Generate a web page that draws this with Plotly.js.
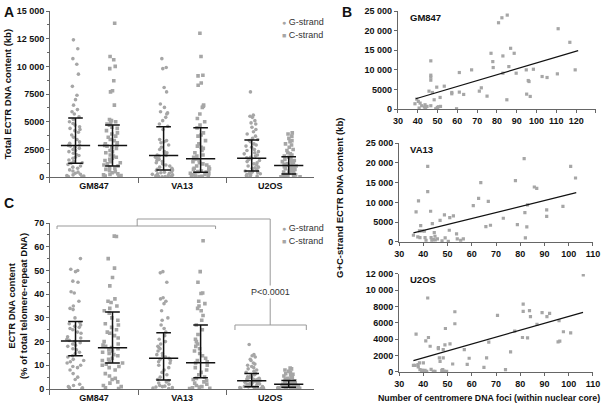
<!DOCTYPE html>
<html>
<head>
<meta charset="utf-8">
<script src="https://cdn.plot.ly/plotly-3.0.1.min.js"></script>
<style>body{margin:0;background:#fff}#plot{width:602px;height:410px}</style>
</head>
<body>
<div id="plot"></div>
<script>
const cells = ['GM847', 'VA13', 'U2OS'];

// Panel A: total ECTR DNA content (kb), one value per nucleus
const aGM847G = [12400, 11600, 10700, 10200, 9300, 8200, 7400, 7000, 6500, 6100, 5900, 5700, 5450, 5200, 5000, 4850, 4700, 4550, 4400, 4300, 4200, 4050, 3800, 3600, 3400, 3200, 3050, 2900, 2850, 2800, 2700, 2600, 2500, 2400, 2300, 2150, 2050, 1950, 1800, 1700, 1550, 1400, 1300, 1250, 1150, 1000, 900, 800, 650, 550, 450, 350, 250, 200, 150, 100, 60, 30];
const aGM847C = [13900, 10900, 10600, 10000, 9800, 8700, 7800, 7700, 6500, 5200, 5100, 5000, 4900, 4800, 4700, 4500, 4400, 4200, 4000, 3900, 3700, 3600, 3400, 3300, 3100, 3000, 2900, 2850, 2800, 2700, 2600, 2400, 2300, 2200, 2000, 1900, 1800, 1700, 1600, 1500, 1400, 1300, 1200, 1100, 1000, 900, 800, 700, 600, 500, 400, 300, 250, 200, 150, 100, 50];
const aVA13G = [10700, 9900, 9800, 8100, 7700, 6600, 6300, 5900, 5800, 5700, 5400, 5100, 4800, 4600, 4300, 3400, 3300, 3200, 3100, 2900, 2700, 2500, 2300, 2200, 2100, 2000, 1950, 1900, 1800, 1700, 1600, 1500, 1400, 1300, 1200, 1100, 1000, 900, 800, 700, 650, 600, 500, 450, 400, 350, 300, 250, 200, 150, 120, 100, 80, 50, 30];
const aVA13C = [13000, 10900, 9200, 9150, 8500, 8300, 6500, 6400, 6300, 5700, 5300, 5000, 4700, 4450, 4000, 3800, 3700, 3300, 3000, 2800, 2700, 2600, 2400, 2200, 2000, 1900, 1800, 1700, 1650, 1600, 1500, 1400, 1300, 1200, 1100, 1000, 900, 800, 750, 700, 600, 550, 500, 450, 400, 350, 300, 250, 200, 150, 100, 80, 50, 30];
const aU2OSG = [7700, 5600, 5500, 5400, 5100, 4900, 4800, 4500, 4300, 4100, 3900, 3700, 3500, 3400, 3300, 3200, 3000, 2900, 2800, 2700, 2500, 2400, 2300, 2200, 2100, 2000, 1900, 1800, 1750, 1700, 1600, 1500, 1400, 1300, 1200, 1100, 1000, 900, 850, 800, 700, 600, 550, 500, 450, 400, 350, 300, 250, 200, 150, 100, 80, 50];
const aU2OSC = [4000, 3900, 3700, 3500, 3300, 3200, 3000, 2900, 2700, 2500, 2400, 2200, 2100, 2000, 1900, 1800, 1700, 1600, 1500, 1450, 1400, 1300, 1250, 1200, 1150, 1100, 1050, 1000, 950, 900, 850, 800, 750, 700, 650, 600, 550, 500, 450, 400, 350, 300, 250, 200, 180, 150, 120, 100, 80, 60, 40, 20];
// median with interquartile range (per cell line)
const aMedG = [2850, 1950, 1700];
const aQ1G = [1250, 650, 550];
const aQ3G = [5350, 4550, 3350];
const aMedC = [2850, 1650, 1050];
const aQ1C = [1000, 450, 280];
const aQ3C = [4700, 4450, 1830];
const aTickVals = [0, 2500, 5000, 7500, 10000, 12500, 15000];
const aTickText = ['0', '2500', '5000', '7500', '10 000', '12 500', '15 000'];

// Panel C: ECTR DNA content (% of total telomere-repeat DNA)
const cGM847G = [55, 50.5, 50, 49.5, 45.5, 45, 41, 40.5, 37, 35, 34, 33.5, 30, 28, 27.5, 27, 26.5, 26, 25.5, 25, 24, 23.5, 22, 21.5, 21, 20.5, 20, 19.5, 19, 18.5, 18, 17, 16.5, 15.5, 15, 14, 13.5, 12.5, 12, 11.5, 11, 10, 9.5, 9, 8, 6.5, 5, 4, 2, 1.5, 1, 0.5, 0.5, 0.2];
const cGM847C = [64.5, 64.3, 55, 51, 47, 43.5, 38, 37, 36.5, 35, 34, 33, 32, 30, 29, 27.5, 27, 26, 25, 24, 23.5, 22.5, 21.5, 20, 19, 18.5, 18, 17.5, 17, 16.5, 16, 15.5, 15, 14.5, 14, 13, 12.5, 12, 11.5, 11, 10.5, 10, 9.5, 9, 8, 6.5, 5.5, 4.5, 4, 3, 2.5, 1.5, 1, 0.5, 0.2];
const cVA13G = [49.5, 49, 45, 38.5, 38, 37, 36, 33, 30, 29, 27, 25.5, 24, 22.5, 21, 20, 19, 18, 17.5, 17, 16, 15, 14.5, 14, 13.5, 13, 12.5, 12, 11.5, 11, 10, 9, 8, 7, 6, 5, 4, 3.5, 3, 2.5, 2, 1.5, 1.2, 1, 0.8, 0.6, 0.4, 0.2];
const cVA13C = [62.5, 49.5, 45, 40.5, 40.3, 37, 36, 35, 34, 33, 31, 29, 27, 25, 23, 21, 20, 19, 18, 17, 16, 15, 14, 13, 12, 11.5, 11, 10, 9, 8, 7, 6, 5, 4.5, 4, 3.5, 3, 2.5, 2, 1.5, 1, 0.8, 0.5, 0.3, 0.2];
const cU2OSG = [18.8, 14.5, 14, 13.5, 12.5, 12, 11, 10.5, 10, 9.5, 9, 8.5, 8, 7.5, 7, 6.5, 6, 5.5, 5.2, 5, 4.8, 4.5, 4.2, 4.1, 4, 3.8, 3.6, 3.5, 3.4, 3.2, 3.1, 3, 2.8, 2.6, 2.5, 2.4, 2.2, 2.1, 2, 1.8, 1.6, 1.5, 1.4, 1.2, 1.1, 1, 0.9, 0.8, 0.7, 0.6, 0.5, 0.4, 0.3, 0.2, 0.1];
const cU2OSC = [8.8, 8.5, 8, 7.5, 7, 6.5, 6.2, 6, 5.5, 5, 4.8, 4.5, 4.2, 4, 3.8, 3.5, 3.3, 3.2, 3, 2.9, 2.8, 2.6, 2.5, 2.4, 2.2, 2.1, 2, 1.9, 1.8, 1.7, 1.6, 1.5, 1.4, 1.3, 1.25, 1.2, 1.1, 1, 0.95, 0.9, 0.8, 0.7, 0.6, 0.5, 0.45, 0.4, 0.3, 0.2, 0.2, 0.1, 0.1];
const cMedG = [20.2, 13, 3.5];
const cQ1G = [14, 3.8, 1];
const cQ3G = [28.5, 23.7, 6.5];
const cMedC = [17.4, 11.1, 2];
const cQ1C = [11, 4.7, 0.7];
const cQ3C = [32.5, 27, 3.6];

// Panel B: G+C-strand ECTR DNA content (kb) vs centromere foci
const bGM847Foci = [38.6, 39.5, 40.3, 40.7, 41.2, 42, 43.4, 43.7, 44, 44.7, 45.7, 46.6, 46.6, 46.6, 46.6, 46.6, 47.4, 48.3, 49.1, 49.6, 49.9, 50.5, 51.3, 51.5, 53.4, 57.2, 57.2, 59.6, 61, 61, 63.2, 67.2, 71.1, 72.1, 75, 77, 77.9, 78.1, 80.8, 82.5, 83, 83, 85, 85.2, 86, 86.9, 88.7, 89.7, 94.8, 95, 95.8, 96.2, 96.8, 98.4, 102.8, 105.3, 110.5, 110.9, 116.8, 119.5];
const bGM847Kb = [1350, 2540, 1950, 250, 1520, 850, 500, 1100, 0, 680, 4570, 12300, 8640, 8130, 7370, 850, 4230, 2370, 80, 5590, 420, 590, 2960, 680, 5840, 4230, 3900, 80, 9320, 4320, 3730, 10000, 4570, 5420, 3300, 14230, 12110, 10590, 22020, 23290, 13550, 9150, 2370, 23970, 10840, 15500, 14230, 9150, 10000, 3810, 7280, 7030, 3220, 10160, 8300, 8050, 8980, 20500, 17030, 10000];
const bGM847FitX = [39, 121];
const bGM847FitY = [2630, 14900];
const bVA13Foci = [35.9, 37, 37.7, 38, 38.4, 38.6, 38.9, 39.5, 40.4, 40.7, 41.1, 41.8, 41.8, 43, 43.2, 43.5, 43.7, 44.1, 44.5, 44.8, 44.9, 45.8, 46.9, 47.7, 48.7, 49, 50.3, 50.7, 50.9, 52.4, 53.7, 54, 55.4, 56.5, 60.6, 62.8, 63.7, 65.8, 66.8, 67.7, 73, 78, 78.8, 81.6, 81.9, 82.1, 83, 82.7, 85.8, 86.8, 90.9, 90.9, 97.6, 100.8, 102.8];
const bVA13Kb = [1680, 7580, 1260, 10360, 2780, 1090, 4130, 2780, 2690, 1090, 420, 19110, 12710, 7750, 1090, 420, 4630, 590, 2360, 1430, 500, 760, 5470, 250, 6820, 1010, 170, 2950, 6150, 6570, 2020, 760, 420, 760, 9180, 11030, 14990, 3870, 10270, 4210, 5980, 15490, 4380, 21050, 7410, 1010, 9350, 3790, 13890, 13560, 8080, 6480, 9010, 19110, 16170];
const bVA13FitX = [35.9, 103.1];
const bVA13FitY = [2270, 12460];
const bU2OSFoci = [35.9, 36.6, 37, 37.8, 37.9, 38.4, 38.6, 39.3, 39.7, 40, 40.7, 41, 41.4, 41.8, 42.1, 42.8, 43.2, 44.1, 44.8, 46.2, 46.2, 46.6, 46.9, 47.6, 48, 48.2, 48.2, 48.5, 48.9, 49.1, 49.6, 51, 52.1, 53, 53, 56.9, 58.1, 58.9, 65, 66.1, 67, 70.6, 73.9, 76, 77.7, 80.9, 81.2, 81.2, 83, 83.8, 84.2, 86.9, 89, 91, 92.1, 95.6, 96, 96.3, 97.8, 100.8, 106];
const bU2OSKb = [820, 820, 4630, 900, 610, 1110, 290, 200, 200, 1110, 200, 3810, 80, 9050, 4220, 3150, 330, 80, 80, 2990, 2870, 1720, 1310, 200, 290, 2740, 1720, 120, 3320, 5320, 80, 3440, 980, 7370, 5900, 2740, 940, 1680, 570, 1720, 3650, 6920, 290, 2460, 5000, 4220, 8310, 7410, 4180, 7500, 6760, 5820, 7250, 6760, 7170, 3690, 6270, 3770, 4920, 4790, 11880];
const bU2OSFitX = [35.9, 105.9];
const bU2OSFitY = [1390, 7290];
const bTickVals25 = [0, 5000, 10000, 15000, 20000, 25000];
const bTickText25 = ['0', '5000', '10 000', '15 000', '20 000', '25 000'];
const bTickVals12 = [0, 2000, 4000, 6000, 8000, 10000, 12000];
const bTickText12 = ['0', '2000', '4000', '6000', '8000', '10 000', '12 000'];

const grey = '#a6a6a6';
const ink = '#111';
const FONT = 'Liberation Sans, Arial, sans-serif';

function dots(groups, group, symbol, xa, ya) {
  const x = [], y = [];
  groups.forEach((vals, i) => vals.forEach(v => { x.push(cells[i]); y.push(v); }));
  return {
    type: 'box', x: x, y: y, xaxis: xa, yaxis: ya, offsetgroup: group,
    boxpoints: 'all', jitter: 0.85, pointpos: 0,
    marker: {symbol: symbol, size: 3.6, color: grey},
    line: {width: 0}, fillcolor: 'rgba(0,0,0,0)', showlegend: false
  };
}

function medianIqr(med, q1, q3, group, xa, ya) {
  return {
    type: 'box', x: cells, q1: med, median: med, q3: med,
    lowerfence: q1, upperfence: q3, xaxis: xa, yaxis: ya, offsetgroup: group,
    boxpoints: false, whiskerwidth: 0.5,
    line: {color: ink, width: 1.5}, fillcolor: 'rgba(0,0,0,0)', showlegend: false
  };
}

function scatter(x, y, xa, ya) {
  return {type: 'scatter', mode: 'markers', x: x, y: y, xaxis: xa, yaxis: ya,
    marker: {symbol: 'square', size: 3.2, color: grey}, showlegend: false};
}
function fit(x, y, xa, ya) {
  return {type: 'scatter', mode: 'lines', x: x, y: y, xaxis: xa, yaxis: ya,
    line: {color: ink, width: 1.2}, showlegend: false};
}

const traces = [
  dots([aGM847G, aVA13G, aU2OSG], 'G', 'circle', 'x', 'y'),
  dots([aGM847C, aVA13C, aU2OSC], 'C', 'square', 'x', 'y'),
  medianIqr(aMedG, aQ1G, aQ3G, 'G', 'x', 'y'),
  medianIqr(aMedC, aQ1C, aQ3C, 'C', 'x', 'y'),
  dots([cGM847G, cVA13G, cU2OSG], 'G', 'circle', 'x2', 'y2'),
  dots([cGM847C, cVA13C, cU2OSC], 'C', 'square', 'x2', 'y2'),
  medianIqr(cMedG, cQ1G, cQ3G, 'G', 'x2', 'y2'),
  medianIqr(cMedC, cQ1C, cQ3C, 'C', 'x2', 'y2'),
  scatter(bGM847Foci, bGM847Kb, 'x3', 'y3'),
  fit(bGM847FitX, bGM847FitY, 'x3', 'y3'),
  scatter(bVA13Foci, bVA13Kb, 'x4', 'y4'),
  fit(bVA13FitX, bVA13FitY, 'x4', 'y4'),
  scatter(bU2OSFoci, bU2OSKb, 'x5', 'y5'),
  fit(bU2OSFitX, bU2OSFitY, 'x5', 'y5')
];

const tickFont = {family: FONT, size: 9, color: ink, weight: 'bold'};
const titleFont = {family: FONT, size: 9.5, color: ink, weight: 'bold'};
const axLine = {showline: true, linecolor: '#666', linewidth: 1, showgrid: false, zeroline: false,
  ticks: 'outside', tickcolor: '#666', tickfont: tickFont, fixedrange: true};

function catAxis(anchor) {
  return Object.assign({}, axLine, {
    domain: [0.083, 0.522], anchor: anchor, type: 'category', categoryarray: cells,
    range: [-0.5, 2.5], tickson: 'boundaries', ticklen: 5
  });
}
function numAxis(domain, anchor, range, extra) {
  return Object.assign({}, axLine, {domain: domain, anchor: anchor, range: range, ticklen: 3}, extra);
}

const layout = {
  width: 602, height: 410,
  margin: {l: 0, r: 0, t: 0, b: 0},
  paper_bgcolor: '#fff', plot_bgcolor: '#fff',
  font: {family: FONT, size: 9, color: ink},
  showlegend: false,
  boxmode: 'group', boxgap: 0.16, boxgroupgap: 0.21,
  xaxis: catAxis('y'),
  yaxis: numAxis([0.568, 0.973], 'x', [0, 15000], {
    tickvals: aTickVals, ticktext: aTickText,
    minor: {dtick: 1250, ticks: 'outside', ticklen: 2, tickcolor: '#666'},
    title: {text: 'Total ECTR DNA content (kb)', font: titleFont, standoff: 3}
  }),
  xaxis2: catAxis('y2'),
  yaxis2: numAxis([0.0512, 0.456], 'x2', [0, 70], {
    dtick: 10,
    minor: {dtick: 5, ticks: 'outside', ticklen: 2, tickcolor: '#666'},
    title: {text: 'ECTR DNA content<br>(% of total telomere-repeat DNA)', font: titleFont, standoff: 4}
  }),
  xaxis3: numAxis([0.661, 0.990], 'y3', [30, 130], {dtick: 10}),
  yaxis3: numAxis([0.734, 0.973], 'x3', [0, 25000], {tickvals: bTickVals25, ticktext: bTickText25}),
  xaxis4: numAxis([0.663, 0.985], 'y4', [30, 110], {dtick: 10}),
  yaxis4: numAxis([0.410, 0.651], 'x4', [0, 25000], {tickvals: bTickVals25, ticktext: bTickText25}),
  xaxis5: numAxis([0.663, 0.985], 'y5', [30, 110], {dtick: 10}),
  yaxis5: numAxis([0.0927, 0.332], 'x5', [0, 12000], {tickvals: bTickVals12, ticktext: bTickText12}),
  shapes: [],
  annotations: []
};

const bold = (t, size, x, y, extra) => Object.assign({
  text: t, xref: 'paper', yref: 'paper', x: x / 602, y: 1 - y / 410,
  xanchor: 'left', yanchor: 'top', showarrow: false,
  font: {family: FONT, size: size, color: ink, weight: 'bold'}
}, extra || {});

layout.annotations.push(
  bold('A', 14, 2, 2),
  bold('B', 14, 340, 2),
  bold('C', 14, 2, 193),
  bold('GM847', 9.5, 408, 10),
  bold('VA13', 9.5, 408, 142),
  bold('U2OS', 9.5, 408, 272),
  bold('G+C-strand ECTR DNA content (kb)', 9.5, 339, 198, {textangle: -90, xanchor: 'center', yanchor: 'middle'}),
  bold('Number of centromere DNA foci (within nuclear core)', 8.8, 489, 398, {xanchor: 'center', yanchor: 'middle'})
);

// legends for panels A and C
[[22, 35], [228, 241]].forEach(([yG, yC]) => {
  layout.annotations.push(
    {text: '<span style="color:' + grey + ';font-size:7px">●</span> G-strand', xref: 'paper', yref: 'paper',
     x: 280 / 602, y: 1 - yG / 410, xanchor: 'left', yanchor: 'middle', showarrow: false,
     font: {family: FONT, size: 9, color: '#333'}},
    {text: '<span style="color:' + grey + ';font-size:7px">■</span> C-strand', xref: 'paper', yref: 'paper',
     x: 280 / 602, y: 1 - yC / 410, xanchor: 'left', yanchor: 'middle', showarrow: false,
     font: {family: FONT, size: 9, color: '#333'}}
  );
});

// significance brackets in panel C
const yp = v => 1 - v / 410;
const seg = (x0, y0, x1, y1) => ({type: 'line', xref: 'x2', yref: 'paper',
  x0: x0, x1: x1, y0: yp(y0), y1: yp(y1), line: {color: '#999', width: 1}});
layout.shapes.push(
  seg(-0.42, 229, -0.42, 226), seg(-0.42, 226, 1.38, 226), seg(1.38, 226, 1.38, 229),
  seg(0.49, 226, 0.49, 219), seg(0.49, 219, 2, 219), seg(2, 219, 2, 325),
  seg(1.6, 330, 1.6, 325), seg(1.6, 325, 2.41, 325), seg(2.41, 325, 2.41, 330)
);
layout.annotations.push({
  text: 'P<0.0001', xref: 'x2', yref: 'paper', x: 2, y: yp(292), xanchor: 'center', yanchor: 'middle',
  showarrow: false, bgcolor: '#fff', borderpad: 1, font: {family: FONT, size: 9, color: '#333'}
});

Plotly.newPlot('plot', traces, layout, {displayModeBar: false, staticPlot: true});
</script>
</body>
</html>
